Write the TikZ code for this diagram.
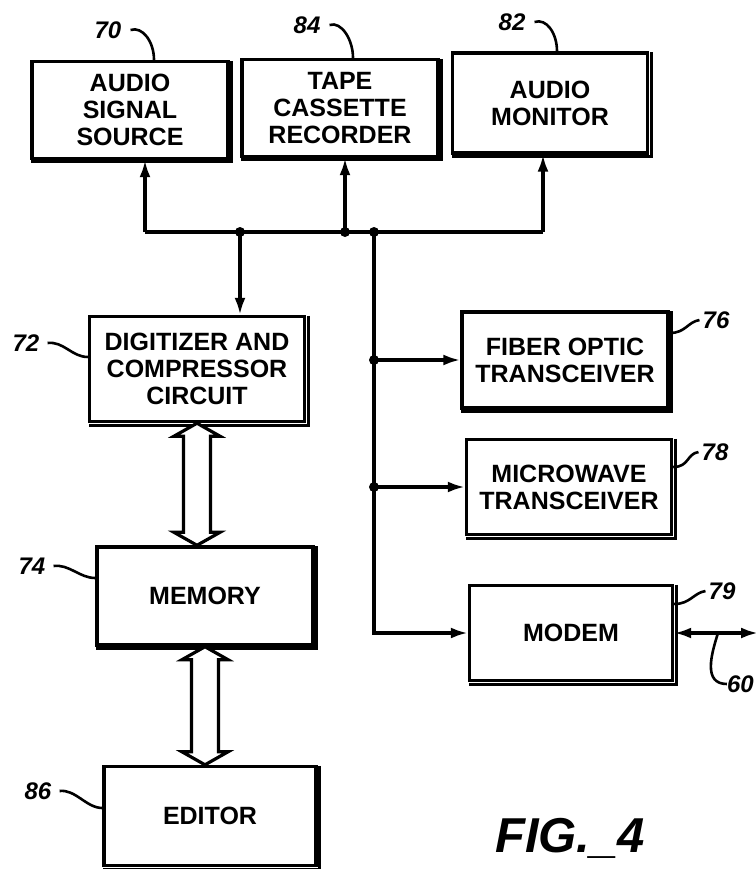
\documentclass[tikz,border=0pt]{standalone}
\usepackage{fontspec}
\setmainfont{Liberation Sans}
\usetikzlibrary{arrows.meta,calc}
\newcommand\hollowarrow[2]{%
  \draw[hol] (#1) -- ($(#1)+(23,13)$) -- ($(#1)+(13.5,13)$) -- ($(#2)+(13.5,-13)$) -- ($(#2)+(23,-13)$) -- (#2)
    -- ($(#2)+(-23,-13)$) -- ($(#2)+(-13.5,-13)$) -- ($(#1)+(-13.5,13)$) -- ($(#1)+(-23,13)$) -- cycle;}
\begin{document}
\begin{tikzpicture}[x=1pt,y=-1pt,
  box/.style={draw, line width=3.4pt, fill=white, inner sep=0pt, align=center,
              font=\fontsize{25}{27}\selectfont\bfseries},
  wire/.style={line width=3.2pt},
  arr/.style={wire,-{Latex[length=17pt,width=11pt]}},
  dbl/.style={wire,{Latex[length=17pt,width=11pt]}-{Latex[length=17pt,width=11pt]}},
  lead/.style={line width=2.6pt},
  num/.style={font=\fontsize{24}{24}\selectfont\bfseries\itshape, inner sep=0pt},
  hol/.style={line width=3.2pt, fill=white, line join=miter},
  dot/.style={circle, fill, inner sep=0pt, minimum size=10pt},
  shad/.style={line width=3pt}]
\useasboundingbox (0,0) rectangle (755,869);

% boxes
\node[box, minimum width=196pt, minimum height=97pt]  (src)  at (130,110) {AUDIO\\SIGNAL\\SOURCE};
\node[box, minimum width=196pt, minimum height=97pt]  (tape) at (340,108) {TAPE\\CASSETTE\\RECORDER};
\node[box, minimum width=195pt, minimum height=100pt] (mon)  at (550,103) {AUDIO\\MONITOR};
\node[box, minimum width=215pt, minimum height=105pt] (dig)  at (197,369) {DIGITIZER AND\\COMPRESSOR\\CIRCUIT};
\node[box, minimum width=206pt, minimum height=96pt]  (fib)  at (565,360) {FIBER OPTIC\\TRANSCEIVER};
\node[box, minimum width=205pt, minimum height=95pt]  (mic)  at (569,487) {MICROWAVE\\TRANSCEIVER};
\node[box, minimum width=203pt, minimum height=95pt]  (mod)  at (571,633) {MODEM};
\node[box, minimum width=216pt, minimum height=98pt]  (mem)  at (205,596) {MEMORY};
\node[box, minimum width=212pt, minimum height=99pt]  (edi)  at (210,816) {EDITOR};

\foreach \b in {src,tape,mon,dig,fib,mic,mod,mem,edi}
  \draw[shad] ([xshift=1.8pt,yshift=-1pt]\b.north east) -- ([xshift=1.8pt,yshift=-1.8pt]\b.south east) -- ([xshift=1pt,yshift=-1.8pt]\b.south west);

% bus
\coordinate (b1) at (145,232);
\coordinate (b4) at (543,232);
\node[dot] (j1) at (240,232) {};
\node[dot] (j2) at (345,232) {};
\node[dot] (j3) at (374,232) {};
\draw[wire] (b1) -- (b4);
\draw[arr] (b1) -- (b1 |- src.south);
\draw[arr] (j2.center) -- (j2.center |- tape.south);
\draw[arr] (b4) -- (b4 |- mon.south);
\draw[arr] (j1.center) -- (j1.center |- dig.north);
\node[dot] (j4) at (j3.center |- fib.west) {};
\node[dot] (j5) at (j3.center |- mic.west) {};
\draw[arr] (j3.center) |- (mod.west);
\draw[arr] (j4.center) -- (fib.west);
\draw[arr] (j5.center) -- (mic.west);

% modem line
\coordinate (net) at (758,633);
\draw[dbl] (mod.east) -- (net);
\coordinate (t60) at (718,633);
\node[num, anchor=east] (n60) at (754,684) {60};
\draw[lead] (t60) .. controls (711,655) and (703,684) .. (n60.west);

% hollow double arrows
\coordinate (h1) at (dig.south);
\coordinate (h2) at (dig.south |- mem.north);
\hollowarrow{h1}{h2}
\coordinate (h3) at (mem.south);
\coordinate (h4) at (mem.south |- edi.north);
\hollowarrow{h3}{h4}

% reference numerals
\node[num] (n70) at (108,30) {70};
\draw[lead] ([xshift=9pt]n70.east) .. controls +(12,-4) and +(0,-18) .. ([xshift=24pt]src.north);
\node[num] (n84) at (307,25) {84};
\draw[lead] ([xshift=9pt]n84.east) .. controls +(12,-4) and +(0,-18) .. ([xshift=13pt]tape.north);
\node[num] (n82) at (512,22) {82};
\draw[lead] ([xshift=9pt]n82.east) .. controls +(12,-4) and +(0,-18) .. ([xshift=7pt]mon.north);
\node[num] (n72) at (26,343) {72};
\draw[lead] ([xshift=8pt]n72.east) .. controls +(16,-2) and +(-16,0) .. ([yshift=12pt]dig.west);
\node[num] (n74) at (32,566) {74};
\draw[lead] ([xshift=8pt]n74.east) .. controls +(16,-2) and +(-16,0) .. ([yshift=18pt]mem.west);
\node[num] (n86) at (38,791) {86};
\draw[lead] ([xshift=8pt]n86.east) .. controls +(16,-2) and +(-16,0) .. ([yshift=8pt]edi.west);
\node[num] (n76) at (716,320) {76};
\draw[lead] ([yshift=27pt]fib.east) .. controls +(16,0) and +(-12,2) .. ([xshift=-3pt]n76.west);
\node[num] (n78) at (715,452) {78};
\draw[lead] ([yshift=20pt]mic.east) .. controls +(16,0) and +(-12,2) .. ([xshift=-3pt]n78.west);
\node[num] (n79) at (722,591) {79};
\draw[lead] ([yshift=29pt]mod.east) .. controls +(16,0) and +(-12,2) .. ([xshift=-3pt]n79.west);

% figure caption
\node[anchor=base, inner sep=0pt, font=\fontsize{49}{49}\selectfont\bfseries\itshape] (fig) at (570,852) {FIG.\_4};
\end{tikzpicture}
\end{document}
